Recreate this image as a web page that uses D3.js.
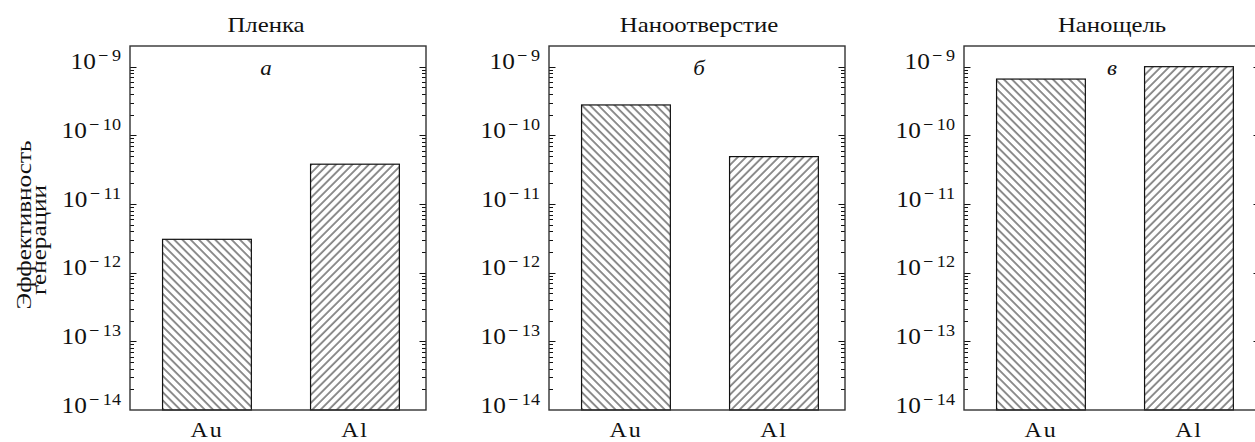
<!DOCTYPE html>
<html>
<head>
<meta charset="utf-8">
<script src="https://cdn.jsdelivr.net/npm/d3@7/dist/d3.min.js"></script>
<style>
  html, body { margin: 0; padding: 0; background: #fff; }
  svg { display: block; }
  text { font-family: "Liberation Serif", "DejaVu Serif", serif; fill: #111; }
</style>
</head>
<body>
<svg id="chart" width="1255" height="442"></svg>
<script>
// Generation efficiency for gold and aluminium, three geometries
const categories = ["Au", "Al"];
const panelTitles = ["Пленка", "Наноотверстие", "Нанощель"];
const panelLetters = ["а", "б", "в"];
const filmValues = [3.06e-12, 3.8e-11];
const holeValues = [2.77e-10, 4.9e-11];
const slitValues = [6.6e-10, 1.0e-9];
const tickExponents = [-14, -13, -12, -11, -10, -9];
const yLabelLines = ["Эффективность", "генерации"];
const yDomain = [1e-14, 2e-9];

const panelValues = [filmValues, holeValues, slitValues];

// layout
const svg = d3.select("#chart");
const plotTop = 46, plotBottom = 410;
const panelLeft = [130, 549, 964];
const panelWidth = 296;
const titleShift = [-12, 2, 0];

const y = d3.scaleLog().domain(yDomain).range([plotBottom, plotTop]);
const x = d3.scaleBand().domain(categories).range([0, panelWidth])
  .paddingInner(0.4).paddingOuter(0.2).align(0.55);

// hatch fills: "\\" for Au, "//" for Al
const defs = svg.append("defs");
function hatch(id, angle) {
  const p = defs.append("pattern")
    .attr("id", id)
    .attr("patternUnits", "userSpaceOnUse")
    .attr("width", 5.8).attr("height", 12)
    .attr("patternTransform", `rotate(${angle})`);
  p.append("line")
    .attr("x1", 1).attr("y1", -1).attr("x2", 1).attr("y2", 13)
    .attr("stroke", "#1e1e1e").attr("stroke-width", 1);
}
hatch("hatchBack", -45);
hatch("hatchFwd", 45);
const fills = { Au: "url(#hatchBack)", Al: "url(#hatchFwd)" };

function stretched(sel, px, py, sx) {
  return sel.attr("transform", `translate(${px},${py}) scale(${sx},1)`);
}

const minorTicks = y.ticks().filter(v => v > yDomain[0] && v < yDomain[1]);
const majorTicks = tickExponents.map(e => Math.pow(10, e));

panelValues.forEach((values, i) => {
  const g = svg.append("g").attr("transform", `translate(${panelLeft[i]},0)`);

  // bars
  g.selectAll("rect.bar")
    .data(categories.map((c, j) => ({ c, v: values[j] })))
    .join("rect")
    .attr("class", "bar")
    .attr("x", d => x(d.c))
    .attr("y", d => y(d.v))
    .attr("width", x.bandwidth())
    .attr("height", d => y(yDomain[0]) - y(d.v))
    .attr("fill", d => fills[d.c])
    .attr("stroke", "#111")
    .attr("stroke-width", 1.2);

  // inward ticks on left and right spines
  const tickG = g.append("g").attr("stroke", "#111").attr("stroke-width", 1);
  minorTicks.forEach(v => {
    const isMajor = majorTicks.some(m => Math.abs(Math.log10(m) - Math.log10(v)) < 1e-6);
    const len = isMajor ? 6.5 : 4;
    const yy = Math.round(y(v)) + 0.5;
    tickG.append("line").attr("x1", 0).attr("x2", len).attr("y1", yy).attr("y2", yy);
    tickG.append("line").attr("x1", panelWidth).attr("x2", panelWidth - len).attr("y1", yy).attr("y2", yy);
  });

  // frame
  g.append("rect")
    .attr("x", 0).attr("y", plotTop)
    .attr("width", panelWidth).attr("height", plotBottom - plotTop)
    .attr("fill", "none").attr("stroke", "#333").attr("stroke-width", 1.4);

  // y tick labels 10^n
  majorTicks.forEach((v, k) => {
    const t = stretched(g.append("text"), -9, y(v) + 2.5, 1.1)
      .attr("text-anchor", "end").style("font-size", "23px");
    t.append("tspan").text("10");
    t.append("tspan").attr("dy", -8).attr("dx", 2).style("font-size", "16.5px")
      .text("\u2212" + "\u2009" + Math.abs(tickExponents[k]));
  });

  // category labels
  categories.forEach(c => {
    stretched(g.append("text"), x(c) + x.bandwidth() / 2, plotBottom + 27, 1.2)
      .attr("text-anchor", "middle").style("font-size", "20px")
      .style("letter-spacing", "1.5px")
      .text(c);
  });

  // panel title and letter
  stretched(g.append("text"), panelWidth / 2 + titleShift[i], 32, 1.18)
    .attr("text-anchor", "middle").style("font-size", "21px")
    .text(panelTitles[i]);
  stretched(g.append("text"), panelWidth / 2 + titleShift[i], 75, 1.15)
    .attr("text-anchor", "middle").style("font-size", "20px")
    .style("font-style", "italic")
    .text(panelLetters[i]);
});

// y-axis title, two rotated lines
const ly = [[31, 225], [46, 240]];
yLabelLines.forEach((line, k) => {
  svg.append("text")
    .attr("transform", `translate(${ly[k][0]},${ly[k][1]}) rotate(-90) scale(1.26,1)`)
    .attr("text-anchor", "middle").style("font-size", "20px")
    .text(line);
});
</script>
</body>
</html>
